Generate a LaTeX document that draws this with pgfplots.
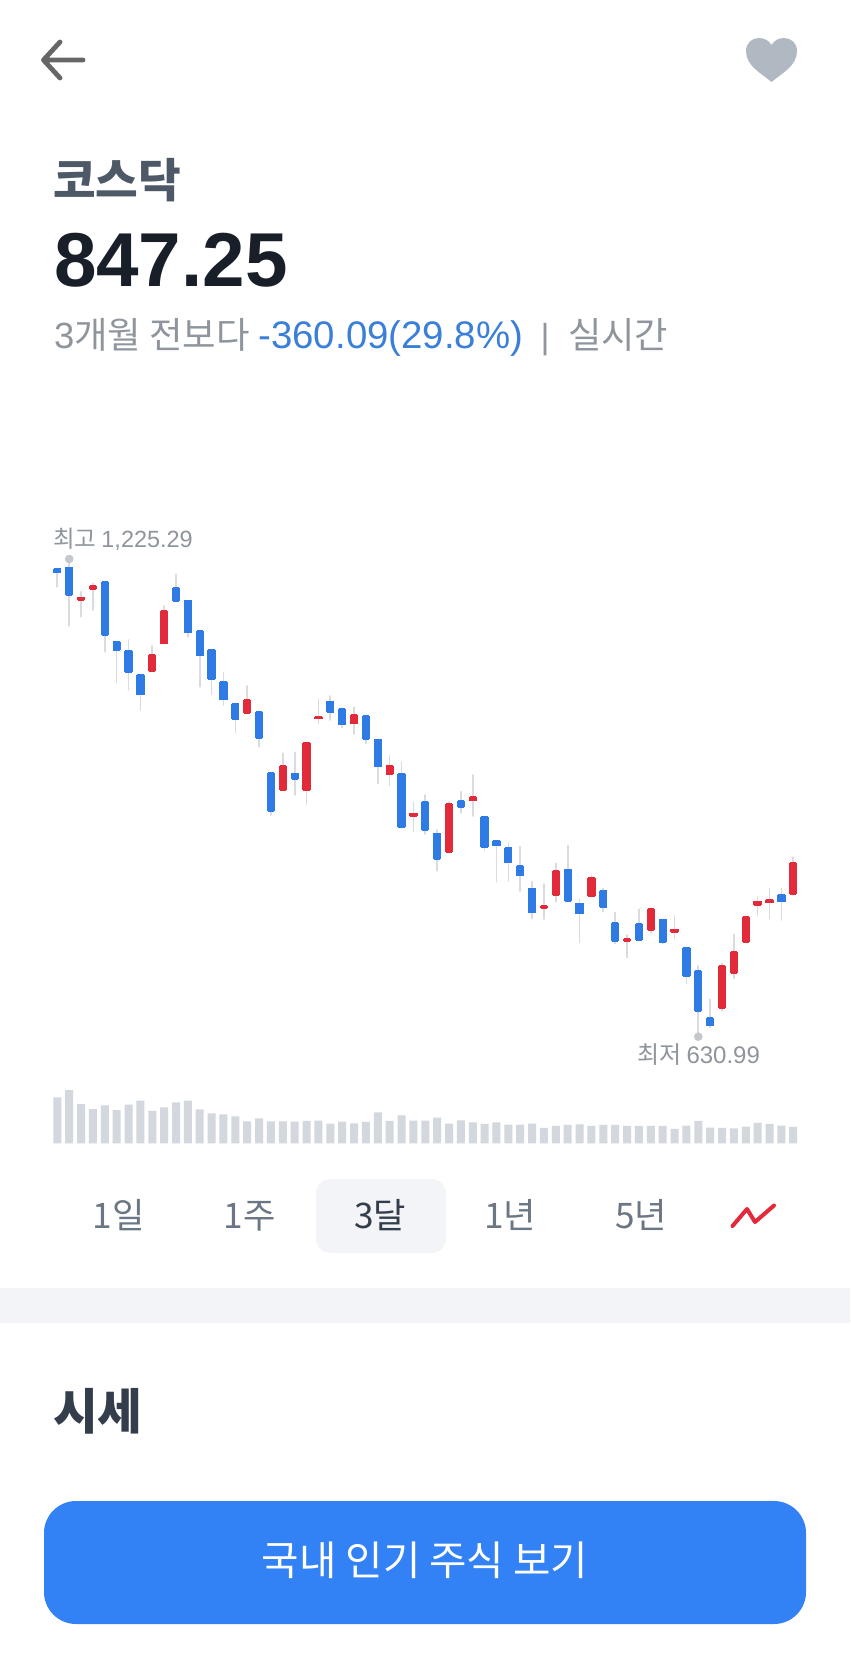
\documentclass[border=0pt]{standalone}
\usepackage{fontspec}
\usepackage{pgfplots}
\usepackage{pgfplotstable}
\pgfplotsset{compat=1.18}
\setmainfont{Noto Sans CJK KR}
\newfontfamily\lat{Liberation Sans}
\definecolor{cblue}{HTML}{2F7BE6}
\definecolor{cred}{HTML}{E32A3A}
\definecolor{wick}{HTML}{D9DBDF}
\definecolor{volc}{HTML}{D3D7DE}
\definecolor{dot}{HTML}{C4C7CB}
\definecolor{tgray}{HTML}{8F959C}
\definecolor{btn}{HTML}{3281F5}
\definecolor{band}{HTML}{F2F4F7}
\pgfplotstableread{
i high top bot low
0 1213.70 1212.85 1208.29 1190.87
1 1225.29 1214.92 1180.09 1142.35
4 1197.09 1197.09 1130.32 1110.00
5 1122.44 1122.44 1111.66 1071.44
6 1124.52 1111.25 1084.71 1062.31
7 1080.97 1080.97 1056.51 1037.43
10 1206.21 1189.63 1173.04 1173.04
11 1173.87 1173.87 1133.64 1128.66
12 1135.71 1135.71 1105.03 1066.46
13 1112.08 1112.08 1075.58 1057.34
14 1083.88 1072.68 1050.29 1043.65
15 1044.90 1044.90 1026.23 1009.23
17 1035.36 1035.36 1002.60 991.81
18 959.47 959.47 911.36 906.80
20 984.76 958.64 951.59 931.68
23 1054.84 1048.21 1034.52 1024.99
24 1039.50 1038.67 1019.18 1015.86
26 1029.96 1029.96 1000.93 995.96
27 1000.93 1000.93 966.93 946.19
29 972.32 958.22 891.87 891.87
31 931.68 923.38 888.13 883.16
32 888.13 883.99 851.64 837.54
34 935.83 924.63 916.33 909.70
36 904.31 904.31 866.99 863.25
37 874.86 874.86 868.64 823.86
38 871.55 865.74 847.49 824.69
39 867.40 843.35 831.32 812.24
40 823.86 815.56 785.29 778.24
43 868.64 839.20 799.39 799.39
44 801.88 796.91 784.05 748.39
46 815.57 812.67 791.93 786.54
47 785.30 772.85 749.63 747.14
49 789.44 771.61 751.29 751.29
51 777.00 777.00 748.39 747.14
53 741.75 741.75 706.09 697.38
54 718.94 713.14 662.54 630.99
55 677.47 654.25 644.71 642.64
61 815.57 807.27 798.98 776.17
}\bluecandles
\pgfplotstableread{
i high top bot low
2 1184.65 1177.60 1174.28 1153.55
3 1195.02 1191.70 1187.55 1161.84
8 1117.05 1106.27 1085.95 1085.95
9 1166.82 1161.01 1119.96 1119.96
16 1067.29 1049.87 1033.28 1033.28
19 983.52 967.76 937.90 937.90
21 996.79 996.79 937.48 920.48
22 1050.70 1029.13 1026.64 1020.84
25 1040.74 1031.62 1020.42 1007.57
28 980.20 968.17 957.80 943.70
30 922.56 908.87 905.55 886.06
33 923.38 920.48 860.76 860.76
35 956.56 929.19 924.63 905.55
41 820.95 794.00 791.10 777.41
42 846.66 837.13 807.27 798.97
45 832.16 828.84 806.03 806.03
48 757.51 752.95 750.05 729.73
50 789.86 789.86 763.73 760.41
52 781.15 764.56 760.83 753.36
56 722.26 718.94 666.28 663.37
57 758.34 736.78 709.82 703.60
58 779.90 779.90 748.39 748.39
59 804.37 799.40 794.83 782.39
60 815.57 801.47 797.74 778.25
62 854.14 847.25 808.10 807.27
}\redcandles
\pgfplotstableread{
i vol
0 138
1 160
2 118
3 103
4 114
5 100
6 116
7 128
8 97
9 108
10 123
11 128
12 102
13 90
14 87
15 81
16 66
17 75
18 66
19 66
20 65
21 67
22 68
23 59
24 65
25 60
26 64
27 93
28 67
29 84
30 68
31 68
32 77
33 59
34 69
35 63
36 58
37 63
38 56
39 56
40 59
41 46
42 52
43 55
44 57
45 52
46 55
47 55
48 52
49 52
50 52
51 52
52 43
53 53
54 67
55 47
56 46
57 45
58 50
59 61
60 58
61 53
62 49
}\voltable
\pgfplotsset{
  wickplot/.style={draw=none, no markers, forget plot,
    error bars/.cd, y dir=minus, y explicit, error mark=none,
    error bar style={draw=wick, line width=1.25pt, line cap=round}},
  bodyA/.style={draw=none, no markers, forget plot,
    error bars/.cd, y dir=minus, y explicit, error mark=none,
    error bar style={draw=#1, line width=6.2pt, line cap=butt}},
  bodyB/.style={draw=none, no markers, forget plot,
    error bars/.cd, y dir=minus, y explicit, error mark=none,
    error bar style={draw=#1, line width=4.8pt, line cap=butt}},
}
\begin{document}
\begin{tikzpicture}
\useasboundingbox (0,0) rectangle (637.5pt,-1245pt);
\fill[white] (0,0) rectangle (637.5pt,-1245pt);
\begin{scope}[x=0.75pt,y=-0.75pt,every node/.style={inner sep=0pt,outer sep=0pt}]
% back arrow
\draw[line width=3.6pt,color=black!60,line cap=round,line join=round] (83,60)--(44,60) (60,42)--(43.5,60)--(60,78);
% heart
\fill[color={rgb,255:red,176;green,184;blue,193}] (771.5,82) .. controls (761,73) and (746,66) .. (746,51)
  .. controls (746,43) and (752,38) .. (759,38) .. controls (765,38) and (769,41) .. (771.5,45)
  .. controls (774,41) and (778,38) .. (784,38) .. controls (791,38) and (797,43) .. (797,51)
  .. controls (797,66) and (782,73) .. (771.5,82) -- cycle;
% header
\node[anchor=base west,color={rgb,255:red,78;green,89;blue,104}] at (53,197) {\fontsize{34.8pt}{34.8pt}\selectfont\bfseries 코스닥};
\node[anchor=base west,color={rgb,255:red,25;green,31;blue,40}] at (54,286) {\fontsize{57.3pt}{57.3pt}\selectfont\lat\bfseries 847.25};
\node[anchor=base west,color=tgray] at (54,348) {\fontsize{27.3pt}{27.3pt}\selectfont{\lat 3}개월 전보다};
\node[anchor=base west,color={rgb,255:red,58;green,127;blue,216}] at (258.5,348) {\fontsize{28.8pt}{28.8pt}\selectfont\lat -360.09(29.8\%)};
\node[anchor=base,color=tgray] at (545,348) {\fontsize{26pt}{26pt}\selectfont\lat |};
\node[anchor=base west,color=tgray] at (568,348) {\fontsize{27.2pt}{27.2pt}\selectfont 실시간};
% high low labels
\node[anchor=base west,color=tgray] at (53,547) {\fontsize{17.6pt}{17.6pt}\selectfont 최고 {\lat 1,225.29}};
\node[anchor=base west,color=tgray] at (637,1063) {\fontsize{18pt}{18pt}\selectfont 최저 {\lat 630.99}};
% range selector
\fill[band,rounded corners=11pt] (316,1179) rectangle (446,1253);
\foreach \cx/\lbl in {118.5/1일,249.5/1주,510/1년,641/5년}{
  \node[anchor=base,color={rgb,255:red,107;green,118;blue,132}] at (\cx,1228.5) {\fontsize{26.4pt}{26.4pt}\selectfont \lbl};
}
\node[anchor=base,color={rgb,255:red,51;green,61;blue,75}] at (380,1228.5) {\fontsize{26.4pt}{26.4pt}\selectfont 3달};
\draw[color=cred,line width=3pt,line cap=round,line join=round] (732.5,1226)--(747,1209)--(755,1222)--(774,1205.5);
% band
\fill[band] (0,1288) rectangle (850,1323);
% section title
\node[anchor=base west,color={rgb,255:red,51;green,61;blue,75}] at (53,1429) {\fontsize{36.5pt}{36.5pt}\selectfont\bfseries 시세};
% button
\fill[btn,rounded corners=24pt] (44,1501) rectangle (806,1624);
\node[anchor=base,color=white] at (425,1575) {\fontsize{30.5pt}{30.5pt}\selectfont 국내 인기 주식 보기};
\end{scope}
% candles
\begin{axis}[
  at={(37.5pt,-787.5pt)}, anchor=south west,
  scale only axis, width=562.5pt, height=382.5pt,
  hide axis, clip=false,
  xmin=-0.615, xmax=62.57, ymin=614.44, ymax=1248.93]
\addplot[wickplot] table[x=i,y=high,y error minus expr=\thisrow{high}-\thisrow{low}] {\bluecandles};
\addplot[wickplot] table[x=i,y=high,y error minus expr=\thisrow{high}-\thisrow{low}] {\redcandles};
\addplot[bodyA=cblue] table[x=i,y expr=\thisrow{top},y error minus expr=\thisrow{top}-\thisrow{bot}] {\bluecandles};
\addplot[bodyB=cblue] table[x=i,y expr=\thisrow{top}+0.7,y error minus expr=\thisrow{top}-\thisrow{bot}+1.4] {\bluecandles};
\addplot[bodyA=cred] table[x=i,y expr=\thisrow{top},y error minus expr=\thisrow{top}-\thisrow{bot}] {\redcandles};
\addplot[bodyB=cred] table[x=i,y expr=\thisrow{top}+0.7,y error minus expr=\thisrow{top}-\thisrow{bot}+1.4] {\redcandles};
\addplot[only marks, mark=*, mark size=3pt, mark options={fill=dot,draw=dot}] coordinates {(1,1225.29) (54,630.99)};
\end{axis}
% volume
\begin{axis}[
  at={(37.5pt,-857.475pt)}, anchor=south west,
  scale only axis, width=562.5pt, height=47.475pt,
  hide axis, clip=false,
  xmin=-0.615, xmax=62.57, ymin=0, ymax=190]
\addplot[ybar, bar width=6pt, bar shift=0pt, fill=volc, draw=none] table[x=i,y=vol] {\voltable};
\end{axis}
\end{tikzpicture}
\end{document}
